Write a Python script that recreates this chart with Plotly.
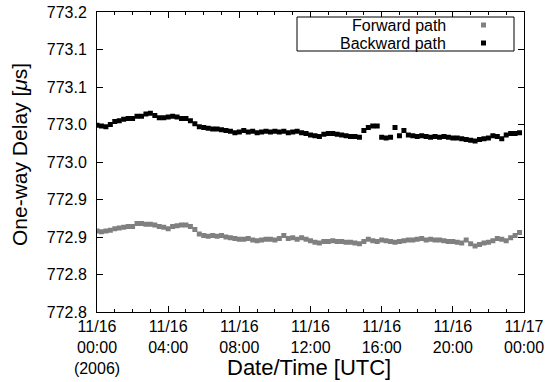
import plotly.graph_objects as go

# Sample times in hours after 2006-11-16 00:00 UTC (15-minute spacing)
hours = [i * 0.25 for i in range(96)]

# One-way delay, forward path [µs]
forward_delay = [
    772.908, 772.907, 772.908, 772.909, 772.911, 772.912, 772.913, 772.914,
    772.914, 772.918, 772.918, 772.917, 772.917, 772.916, 772.914, 772.913,
    772.911, 772.914, 772.915, 772.916, 772.916, 772.914, 772.910, 772.904,
    772.902, 772.901, 772.902, 772.901, 772.902, 772.900, 772.899, 772.898,
    772.897, 772.897, 772.898, 772.896, 772.895, 772.896, 772.897, 772.897,
    772.896, 772.898, 772.902, 772.898, 772.899, 772.897, 772.899, 772.897,
    772.895, 772.893, 772.892, 772.894, 772.894, 772.895, 772.894, 772.894,
    772.893, 772.893, 772.892, 772.891, 772.894, 772.897, 772.895, 772.894,
    772.896, 772.895, 772.894, 772.893, 772.894, 772.895, 772.896, 772.896,
    772.897, 772.898, 772.896, 772.897, 772.896, 772.896, 772.895, 772.894,
    772.894, 772.893, 772.892, 772.896, 772.891, 772.888, 772.890, 772.892,
    772.893, 772.895, 772.898, 772.897, 772.895, 772.899, 772.902, 772.906,
]

# One-way delay, backward path [µs]
backward_delay = [
    773.049, 773.048, 773.047, 773.050, 773.054, 773.055, 773.057, 773.058,
    773.058, 773.061, 773.061, 773.064, 773.065, 773.062, 773.059, 773.059,
    773.060, 773.061, 773.060, 773.058, 773.058, 773.055, 773.051, 773.047,
    773.046, 773.045, 773.044, 773.044, 773.043, 773.042, 773.041, 773.039,
    773.040, 773.042, 773.040, 773.041, 773.039, 773.040, 773.041, 773.040,
    773.041, 773.040, 773.041, 773.039, 773.040, 773.041, 773.039, 773.038,
    773.036, 773.035, 773.034, 773.037, 773.038, 773.038, 773.037, 773.036,
    773.035, 773.034, 773.034, 773.033, 773.042, 773.046, 773.048, 773.048,
    773.033, 773.032, 773.033, 773.046, 773.035, 773.042, 773.036, 773.035,
    773.034, 773.035, 773.034, 773.033, 773.034, 773.033, 773.034, 773.033,
    773.032, 773.032, 773.031, 773.030, 773.029, 773.028, 773.030, 773.031,
    773.032, 773.035, 773.034, 773.031, 773.036, 773.038, 773.038, 773.039,
]

x_tick_vals = [0, 4, 8, 12, 16, 20, 24]
x_tick_text = [
    "11/16<br>00:00<br>(2006)",
    "11/16<br>04:00",
    "11/16<br>08:00",
    "11/16<br>12:00",
    "11/16<br>16:00",
    "11/16<br>20:00",
    "11/17<br>00:00",
]

y_tick_vals = [772.80, 772.85, 772.90, 772.95, 773.00, 773.05, 773.10, 773.15, 773.20]
y_tick_text = ["772.8", "772.8", "772.9", "772.9", "773.0", "773.0", "773.1", "773.1", "773.2"]

series_names = ["Forward path", "Backward path"]
series_colors = ["#808080", "#000000"]

FONT = "Liberation Sans, Arial, Helvetica, sans-serif"

fig = go.Figure()
for name, values, color in zip(series_names, [forward_delay, backward_delay], series_colors):
    fig.add_trace(go.Scatter(
        x=hours, y=values, mode="markers", name=name,
        marker=dict(symbol="square", size=5, color=color, line=dict(width=0)),
        showlegend=False, cliponaxis=True,
    ))

# plot area in pixels
L, R, T, B = 97, 21, 12, 70
W, H = 545, 382
pw, ph = W - L - R, H - T - B


def px_x(px):
    return (px - L) / pw


def px_y(py):
    return (H - B - py) / ph


fig.update_layout(
    width=W, height=H,
    margin=dict(l=L, r=R, t=T, b=B, autoexpand=False),
    paper_bgcolor="white", plot_bgcolor="white",
    font=dict(family=FONT, size=16, color="black"),
    showlegend=False,
)

fig.update_xaxes(
    range=[0, 24], tickmode="array", tickvals=x_tick_vals, ticktext=x_tick_text,
    ticks="inside", ticklen=6, tickwidth=1, tickcolor="black",
    minor=dict(tickmode="linear", tick0=0, dtick=1, ticks="inside", ticklen=3, tickwidth=1, tickcolor="black"),
    showline=True, linecolor="black", linewidth=1, mirror="ticks",
    showgrid=False, zeroline=False, automargin=False,
    tickfont=dict(family=FONT, size=16, color="black"),
)
fig.update_yaxes(
    range=[772.80, 773.20], tickmode="array", tickvals=y_tick_vals, ticktext=y_tick_text,
    ticks="inside", ticklen=6, tickwidth=1, tickcolor="black",
    showline=True, linecolor="black", linewidth=1, mirror="ticks",
    showgrid=False, zeroline=False, automargin=False,
    tickfont=dict(family=FONT, size=16, color="black"),
    ticklabelstandoff=6,
)

# axis titles
fig.add_annotation(
    text="Date/Time [UTC]", xref="paper", yref="paper",
    x=px_x(309), y=px_y(367), xanchor="center", yanchor="middle",
    showarrow=False, font=dict(family=FONT, size=22, color="black"),
)
fig.add_annotation(
    text="One-way Delay [<i>μ</i>s]", xref="paper", yref="paper",
    x=px_x(19), y=px_y(155), xanchor="center", yanchor="middle", textangle=-90,
    showarrow=False, font=dict(family=FONT, size=21, color="black"),
)

# key box
fig.add_shape(
    type="rect", xref="paper", yref="paper",
    x0=px_x(297), x1=px_x(514), y0=px_y(51), y1=px_y(17),
    line=dict(color="black", width=1), fillcolor="white", layer="above",
)
for i, (name, color) in enumerate(zip(series_names, series_colors)):
    cy = 25 + i * 18
    fig.add_annotation(
        text=name, xref="paper", yref="paper",
        x=px_x(448), y=px_y(cy), xanchor="right", yanchor="middle",
        showarrow=False, font=dict(family=FONT, size=16, color="black"),
    )
    fig.add_shape(
        type="rect", xref="paper", yref="paper",
        x0=px_x(481), x1=px_x(486), y0=px_y(cy + 2.5), y1=px_y(cy - 2.5),
        line=dict(width=0), fillcolor=color, layer="above",
    )

fig.write_html("out.html")
